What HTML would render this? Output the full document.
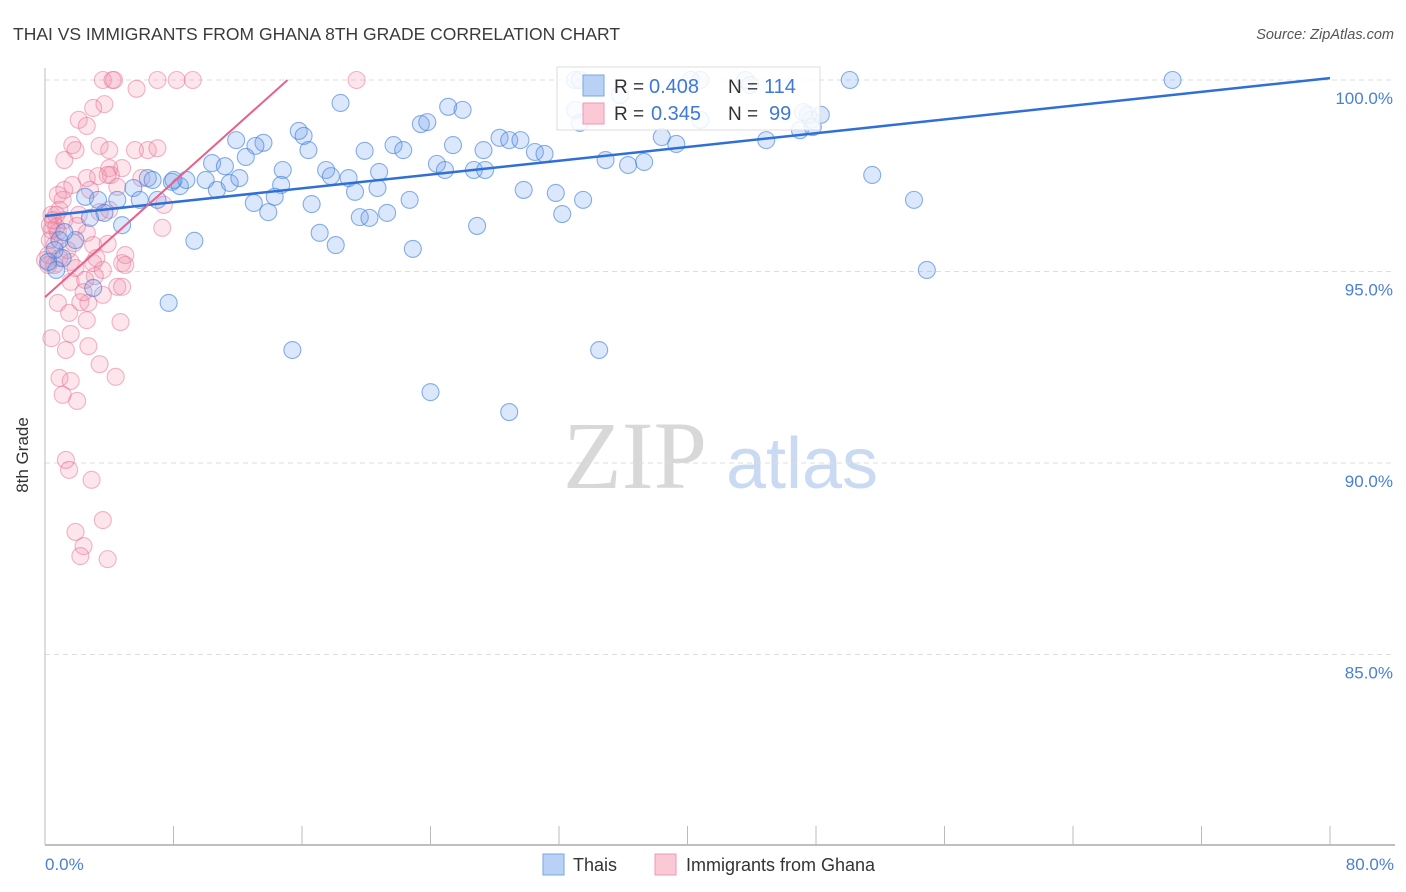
<!DOCTYPE html>
<html><head><meta charset="utf-8"><style>
body{margin:0;background:#fff;font-family:"Liberation Sans",sans-serif;}
#wrap{position:relative;width:1406px;height:892px;overflow:hidden;}
</style></head><body>
<div id="wrap">
<svg id="chart" width="1406" height="892" style="position:absolute;left:0;top:0">
<text x="13" y="40" font-size="17.5" fill="#3a3a3a">THAI VS IMMIGRANTS FROM GHANA 8TH GRADE CORRELATION CHART</text>
<text x="1394" y="39" font-size="14.5" fill="#555" font-style="italic" text-anchor="end">Source: ZipAtlas.com</text>
<g>
<text x="635" y="488" font-size="96" fill="#d8d8d8" font-family="Liberation Serif,serif" text-anchor="middle">ZIP</text>
<text x="802" y="488" font-size="72" fill="#c9daf2" text-anchor="middle">atlas</text>
</g>
<g id="grid"></g>
<g id="axes"></g>
<g id="pinkPts"></g>
<g id="bluePts"></g>
<g id="lines"></g>
<text x="28" y="455" font-size="17" fill="#333" text-anchor="middle" transform="rotate(-90 28 455)">8th Grade</text>
<text x="45" y="870" font-size="17" fill="#4a7fd6">0.0%</text>
<text x="1394" y="870" font-size="17" fill="#4a7fd6" text-anchor="end">80.0%</text>
<g>
<rect x="543" y="854" width="21" height="21" fill="#b8d1f5" stroke="#7aa6e6"/>
<text x="573" y="871" font-size="18" fill="#333">Thais</text>
<rect x="655" y="854" width="21" height="21" fill="#fbc8d6" stroke="#ef9ab2"/>
<text x="686" y="871" font-size="18" fill="#333">Immigrants from Ghana</text>
</g>
<g>
<rect x="557" y="67" width="263" height="63" fill="#fff" fill-opacity="0.85" stroke="#ddd"/>
<rect x="583" y="75" width="21" height="21" fill="#b8d1f5" stroke="#7aa6e6"/>
<rect x="583" y="103" width="21" height="21" fill="#fbc8d6" stroke="#ef9ab2"/>
<text x="614" y="93" font-size="19" fill="#333">R =</text>
<text x="649" y="93" font-size="20" fill="#3f78d8">0.408</text>
<text x="728" y="93" font-size="19" fill="#333">N =</text>
<text x="764" y="93" font-size="20" fill="#3f78d8">114</text>
<text x="614" y="120" font-size="19" fill="#333">R =</text>
<text x="651" y="120" font-size="20" fill="#3f78d8">0.345</text>
<text x="728" y="120" font-size="19" fill="#333">N =</text>
<text x="769" y="120" font-size="20" fill="#3f78d8">99</text>
</g>
</svg>
</div>
<script>
const yTicks=[100,95,90,85];
const xTickVals=[0,8,16,24,32,40,48,56,64,72,80];
const blueX=[33.0,33.3,40.2,40.8,43.6,50.1,70.2,18.4,25.1,26.0,23.4,23.8,33.3,15.8,16.1,11.9,13.6,13.1,16.4,21.7,22.3,19.9,25.4,28.3,28.9,29.6,27.3,30.5,31.1,38.4,39.3,44.9,47.0,47.7,47.5,47.8,12.5,10.4,11.2,14.8,17.5,17.8,18.9,20.8,24.4,24.9,26.7,27.4,34.9,36.3,37.3,51.5,5.5,6.4,6.7,7.9,8.4,8.8,10.0,10.7,11.5,12.1,14.7,19.3,20.7,29.8,31.8,13.0,13.9,14.3,16.6,19.6,20.2,21.3,22.7,32.2,33.5,54.1,2.5,3.3,4.5,5.9,7.0,3.7,4.8,2.8,17.1,18.1,26.9,22.9,9.3,1.9,0.9,0.6,1.1,54.9,3.0,7.7,15.4,34.5,24.0,28.9,8.0,0.7,0.2,1.2,35.8,43.9,33.0,48.3,47.2,40.8];
const blueY=[100,100,100,100,100,100,100,99.40,99.30,99.22,98.85,98.90,98.88,98.67,98.54,98.43,98.36,98.28,98.17,98.30,98.17,98.15,98.30,98.49,98.43,98.43,98.17,98.12,98.07,98.51,98.33,98.43,98.69,98.96,99.09,98.77,97.99,97.83,97.75,97.65,97.65,97.49,97.44,97.60,97.81,97.65,97.65,97.65,97.91,97.78,97.86,97.52,97.18,97.44,97.39,97.34,97.23,97.39,97.39,97.13,97.31,97.44,97.26,97.08,97.18,97.13,97.05,96.79,96.55,96.95,96.76,96.42,96.40,96.53,96.87,96.50,96.87,96.87,96.95,96.87,96.87,96.87,96.87,96.53,96.21,96.40,96.01,95.69,96.19,95.59,95.80,95.82,95.82,95.56,95.35,95.04,94.57,94.18,92.95,92.95,91.85,91.33,97.39,95.04,95.25,96.03,99.61,99.87,99.22,99.09,99.16,98.96];
const pinkX=[3.6,4.2,4.3,7.0,8.2,9.2,19.4,5.7,3.0,3.7,2.1,2.6,1.7,1.2,1.9,3.4,4.8,4.0,4.1,0.8,1.2,1.1,1.7,2.6,3.3,3.9,6.4,7.0,4.0,7.4,7.3,0.4,0.7,2.1,2.6,2.0,3.4,4.0,0.7,0.3,0.6,0.2,0.9,1.6,3.0,3.9,1.9,3.0,3.6,4.8,5.0,5.0,1.6,2.5,3.1,3.6,4.5,4.8,0.8,2.2,2.7,1.5,2.6,1.6,0.4,2.7,1.3,4.7,3.4,4.4,0.9,1.6,1.1,2.0,1.3,1.5,2.9,1.9,2.4,2.2,3.6,3.9,0.9,0.4,1.2,0.8,0.3,0.6,0.0,0.2,1.4,1.8,2.4,3.2,5.6,6.0,4.5,2.8,0.5];
const pinkY=[100,100,100,100,100,100,100,99.77,99.27,99.37,98.96,98.80,98.30,97.91,98.17,98.28,97.70,97.70,97.52,97.00,97.13,96.87,97.26,97.44,97.49,97.52,98.17,98.22,98.17,96.74,96.14,96.48,96.48,96.48,96.01,96.19,96.55,96.61,96.16,95.82,95.69,95.43,95.35,95.25,95.69,95.72,95.09,95.22,95.04,95.22,95.43,95.17,94.73,94.78,94.88,94.39,94.60,94.60,94.18,94.20,94.18,93.92,93.73,93.37,93.26,93.05,92.95,93.68,92.58,92.25,92.22,92.14,91.78,91.62,90.08,89.82,89.56,88.20,87.83,87.57,88.51,87.49,96.61,96.08,96.34,96.03,96.21,95.17,95.30,95.17,95.56,95.74,94.46,95.35,98.17,97.44,97.21,97.13,96.34];
const blueTrendX=[0,80], blueTrendY=[96.45,100.05];
const pinkTrendX=[0,15.1], pinkTrendY=[94.33,100];

const NS="http://www.w3.org/2000/svg";
const sx=v=>45+v*(1330-45)/80;
const sy=v=>80+(100-v)*38.3;
function mk(tag,parent,attrs){const e=document.createElementNS(NS,tag);for(const k in attrs)e.setAttribute(k,attrs[k]);document.getElementById(parent).appendChild(e);return e;}
yTicks.forEach(t=>{
  const l=mk('line','grid',{x1:45,x2:1395,y1:sy(t),y2:sy(t),stroke:'#ddd','stroke-dasharray':'5,4'});
  
  
  const tx=mk('text','grid',{x:1393,y:sy(t)+24,'font-size':17,fill:'#4a7fd6','text-anchor':'end'});
  tx.textContent=t.toFixed(1)+'%';
  
  
});
const ax=mk('line','axes',{x1:45,x2:1395,y1:845,y2:845,stroke:'#aaa','stroke-width':1.5});


const ay=mk('line','axes',{x1:45,x2:45,y1:68,y2:845,stroke:'#bbb'});


xTickVals.forEach(t=>{
  const l=mk('line','axes',{x1:sx(t),x2:sx(t),y1:826,y2:845,stroke:'#bbb'});
  
  
});
pinkX.forEach((x,i)=>{
  const c=mk('circle','pinkPts',{cx:sx(x),cy:sy(pinkY[i]),r:8.5,fill:'rgba(243,140,170,0.22)',stroke:'rgba(232,110,150,0.5)','stroke-width':1.1});
  
  
});
blueX.forEach((x,i)=>{
  const c=mk('circle','bluePts',{cx:sx(x),cy:sy(blueY[i]),r:8.5,fill:'rgba(110,160,235,0.25)',stroke:'rgba(60,125,220,0.6)','stroke-width':1.1});
  
  
});
const bl=mk('line','lines',{x1:sx(blueTrendX[0]),y1:sy(blueTrendY[0]),x2:sx(blueTrendX[1]),y2:sy(blueTrendY[1]),stroke:'#2f6fd6','stroke-width':2.5});


const pl=mk('line','lines',{x1:sx(pinkTrendX[0]),y1:sy(pinkTrendY[0]),x2:sx(pinkTrendX[1]),y2:sy(pinkTrendY[1]),stroke:'#e8608c','stroke-width':2});


</script>
</body></html>
